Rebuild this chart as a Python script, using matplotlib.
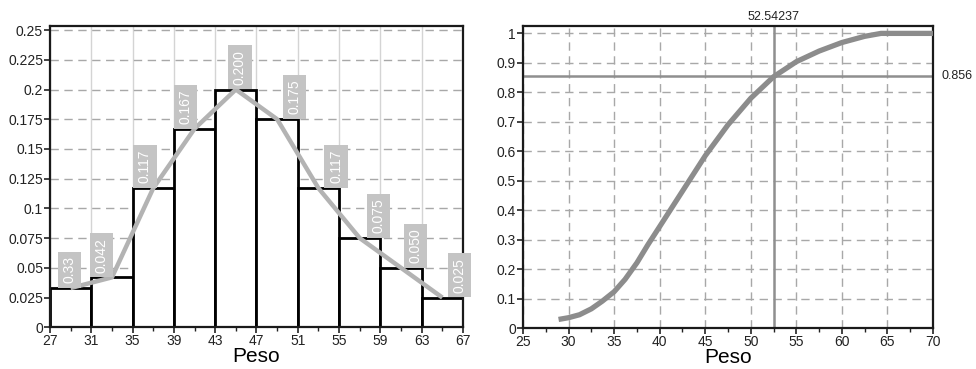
import matplotlib
matplotlib.use("Agg")
import matplotlib.pyplot as plt
from matplotlib.ticker import MultipleLocator, FuncFormatter, FixedLocator
from matplotlib import font_manager

# ---------------- data ----------------
bin_edges = [27, 31, 35, 39, 43, 47, 51, 55, 59, 63, 67]
rel_freq = [0.033, 0.042, 0.117, 0.167, 0.200, 0.175, 0.117, 0.075, 0.050, 0.025]
bar_labels = ["0.33", "0.042", "0.117", "0.167", "0.200", "0.175", "0.117", "0.075", "0.050", "0.025"]

cdf_x = [28.9, 30.0, 31.2, 32.5, 33.7, 35.0, 36.2, 37.5, 38.7, 40.0, 42.5, 45.0, 47.5,
         50.0, 52.5, 55.0, 57.5, 60.0, 62.5, 64.3, 70.0]
cdf_y = [0.030, 0.036, 0.046, 0.066, 0.092, 0.124, 0.166, 0.222, 0.283, 0.345, 0.465, 0.585, 0.690,
         0.780, 0.853, 0.904, 0.940, 0.969, 0.990, 1.000, 1.000]

x_mark = 52.54237
y_mark = 0.856
x_label = "Peso"

# ---------------- style ----------------
names = {f.name for f in font_manager.fontManager.ttflist}
narrow = "Liberation Sans Narrow" if "Liberation Sans Narrow" in names else "Liberation Sans"
plt.rcParams["font.family"] = ["Liberation Sans", "DejaVu Sans"]
plt.rcParams["xtick.labelsize"] = 10
plt.rcParams["ytick.labelsize"] = 10
plt.rcParams["xtick.color"] = "#222222"
plt.rcParams["ytick.color"] = "#222222"

fig = plt.figure(figsize=(9.76, 3.69), dpi=100)
ax1 = fig.add_axes([0.0512, 0.1130, 0.4232, 0.8165])
ax2 = fig.add_axes([0.5359, 0.1103, 0.4200, 0.8192])

def fmt(v, pos):
    return "%g" % round(v, 4)

# ---------------- left: histogram ----------------
mids = [(a + b) / 2 for a, b in zip(bin_edges[:-1], bin_edges[1:])]
widths = [b - a for a, b in zip(bin_edges[:-1], bin_edges[1:])]
ax1.bar(bin_edges[:-1], rel_freq, width=widths, align="edge", color="white",
        edgecolor="black", linewidth=2.0, zorder=2)
ax1.plot(mids, rel_freq, color="#b3b3b3", linewidth=3.2, solid_capstyle="butt",
         solid_joinstyle="round", zorder=3)

label_dx = [-0.1, -1.0, -0.8, -0.9, 0.4, 1.7, 1.7, 1.8, 1.4, 1.7]
for m, v, t, dx in zip(mids, rel_freq, bar_labels, label_dx):
    ax1.text(m + dx, v + 0.004, t, rotation=90, ha="center", va="bottom",
             color="white", fontsize=10, family=[narrow, "Liberation Sans"],
             bbox=dict(boxstyle="square,pad=0.33", facecolor="#c4c4c4", edgecolor="none"),
             zorder=4)

ax1.set_xlim(27, 67)
ax1.set_ylim(0, 0.2534)
ax1.xaxis.set_major_locator(FixedLocator(bin_edges))
ax1.xaxis.set_minor_locator(FixedLocator(mids))
ax1.yaxis.set_major_locator(MultipleLocator(0.025))
ax1.yaxis.set_major_formatter(FuncFormatter(fmt))
ax1.xaxis.grid(True, which="major", color="#d4d4d4", linestyle="-", linewidth=1.0, zorder=0)
ax1.yaxis.grid(True, which="major", color="#a8a8a8", linestyle=(0, (6, 4)), linewidth=1.0, zorder=0)
ax1.set_axisbelow(True)
ax1.set_xlabel(x_label, fontsize=15, family=[narrow, "Liberation Sans"], labelpad=-1)

# ---------------- right: ogive ----------------
ax2.plot(cdf_x, cdf_y, color="#8c8c8c", linewidth=3.8, solid_capstyle="butt",
         solid_joinstyle="round", zorder=3)
ax2.axvline(x_mark, color="#8f8f8f", linewidth=1.8, zorder=2)
ax2.axhline(y_mark, color="#8f8f8f", linewidth=1.8, zorder=2)
ax2.text(x_mark, 1.035, str(x_mark), ha="center", va="bottom", fontsize=9,
         color="#222222", transform=ax2.transData, clip_on=False)
ax2.text(1.02, y_mark, "%g" % y_mark, ha="left", va="center", fontsize=9,
         color="#222222", transform=ax2.get_yaxis_transform(), clip_on=False)

ax2.set_xlim(25, 70)
ax2.set_ylim(0, 1.025)
ax2.xaxis.set_major_locator(MultipleLocator(5))
ax2.xaxis.set_minor_locator(MultipleLocator(2.5))
ax2.yaxis.set_major_locator(MultipleLocator(0.1))
ax2.yaxis.set_major_formatter(FuncFormatter(fmt))
ax2.grid(True, which="major", color="#a8a8a8", linestyle=(0, (6, 4)), linewidth=1.0, zorder=0)
ax2.set_axisbelow(True)
ax2.set_xlabel(x_label, fontsize=15, family=[narrow, "Liberation Sans"], labelpad=-1)

for ax in (ax1, ax2):
    for s in ax.spines.values():
        s.set_linewidth(1.6)
        s.set_color("#1a1a1a")
    ax.tick_params(which="major", direction="out", length=4, width=1.2, pad=1)
    ax.tick_params(which="minor", direction="out", length=3, width=1.0)

fig.savefig("out.png", dpi=100)
